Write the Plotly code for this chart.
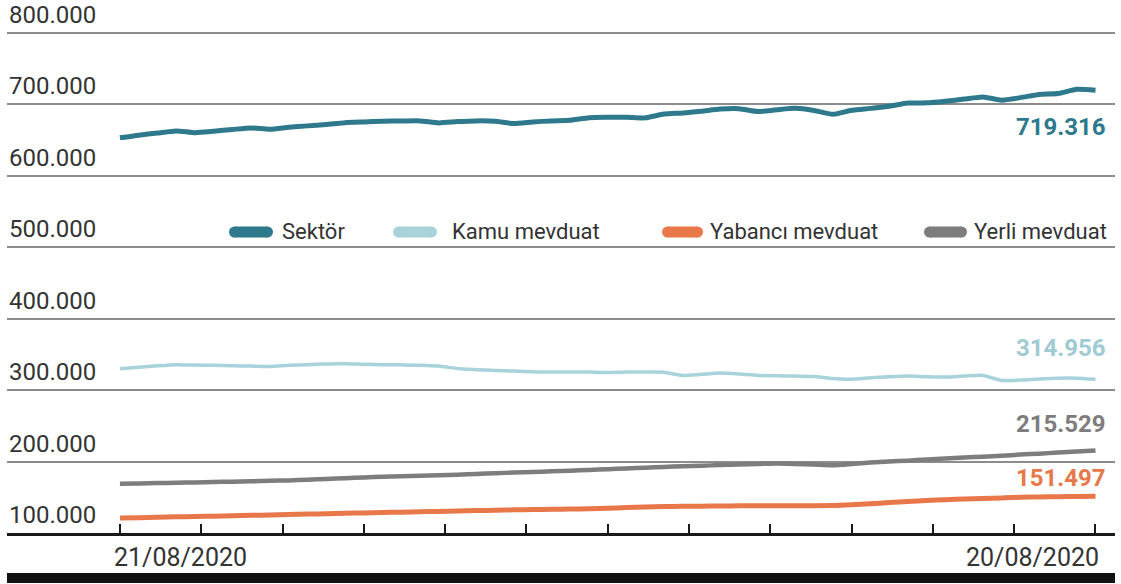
import plotly.graph_objects as go

# ---- data (weekly readings, thousands) ----
weeks = list(range(53))
sektor = [652.8, 656.5, 659.5, 662.5, 660.0, 662.0, 664.5, 666.7, 664.8, 667.5,
          669.5, 671.5, 674.0, 675.0, 676.0, 676.3, 676.5, 673.7, 675.5, 676.5,
          676.0, 672.7, 675.0, 676.5, 677.4, 681.0, 681.5, 681.5, 680.7, 686.0,
          687.5, 690.0, 693.0, 693.5, 689.5, 692.0, 694.0, 691.0, 685.7, 691.3,
          694.0, 697.0, 701.5, 701.7, 704.0, 707.0, 710.0, 705.5, 709.0, 713.5,
          714.7, 720.7, 719.316]
kamu = [329.8, 332.0, 334.0, 335.5, 335.0, 334.5, 334.0, 333.5, 333.0, 334.5,
        335.5, 336.5, 336.8, 336.0, 335.5, 335.2, 334.8, 333.5, 330.0, 328.5,
        327.4, 326.5, 325.5, 325.2, 325.2, 325.2, 324.5, 325.2, 325.2, 325.0,
        320.4, 322.0, 323.8, 322.5, 320.4, 320.0, 319.5, 319.0, 316.0, 315.0,
        317.0, 318.5, 319.5, 318.5, 318.2, 319.5, 320.4, 313.4, 314.0, 315.5,
        316.5, 316.5, 314.956]
yabanci = [121.0, 121.5, 122.0, 122.6, 123.1, 123.6, 124.2, 124.7, 125.3, 125.9,
           126.5, 127.0, 127.6, 128.1, 128.6, 129.2, 129.7, 130.2, 130.8, 131.3,
           131.9, 132.4, 132.8, 133.1, 133.4, 133.8, 134.6, 135.5, 136.4, 137.0,
           137.3, 137.5, 137.8, 138.0, 138.2, 138.2, 138.2, 138.2, 138.4, 139.5,
           141.0, 142.5, 144.0, 145.5, 146.6, 147.5, 148.3, 149.0, 150.0, 150.5,
           150.8, 151.2, 151.497]
yerli = [168.8, 169.3, 169.8, 170.3, 170.8, 171.3, 171.8, 172.4, 173.0, 173.6,
         174.6, 175.6, 176.7, 177.8, 178.6, 179.3, 180.0, 180.7, 181.6, 182.6,
         183.6, 184.6, 185.4, 186.3, 187.2, 188.2, 189.3, 190.3, 191.3, 192.4,
         193.4, 194.2, 195.0, 195.8, 196.6, 197.2, 196.6, 195.8, 194.8, 196.5,
         198.6, 200.0, 201.2, 202.8, 204.2, 205.5, 206.8, 208.0, 209.8, 211.0,
         212.5, 214.0, 215.529]

series_names = ["Sektör", "Kamu mevduat", "Yabancı mevduat", "Yerli mevduat"]
series_vals = [sektor, kamu, yabanci, yerli]
series_colors = ["#2e7a8c", "#a8d3da", "#e8774a", "#7d7d7d"]
series_widths = [5, 3.5, 5, 4.5]
end_labels = ["719.316", "314.956", "151.497", "215.529"]

y_ticks = [100, 200, 300, 400, 500, 600, 700, 800]
y_ticktext = ["100.000", "200.000", "300.000", "400.000", "500.000",
              "600.000", "700.000", "800.000"]
x_tickvals = [52 * k / 12 for k in range(13)]
x_first_label = "21/08/2020"
x_last_label = "20/08/2020"

FONT = "Roboto"

fig = go.Figure()
for name, vals, col, w in zip(series_names, series_vals, series_colors, series_widths):
    fig.add_trace(go.Scatter(x=weeks, y=vals, mode="lines", name=name,
                             line=dict(color=col, width=w, shape="spline", smoothing=0.6),
                             showlegend=False, hoverinfo="skip"))

# geometry helpers (pixel -> paper)
W, H = 1121, 584
L, R, T, B = 7, 6, 4, 51
pw, ph = W - L - R, H - T - B


def px(x):
    return (x - L) / pw


def py(y):
    return (H - B - y) / ph


annotations = []
shapes = []

# y tick labels (above their gridlines)
for v, t in zip(y_ticks, y_ticktext):
    annotations.append(dict(x=px(7), y=v, xref="paper", yref="y", text=t,
                            showarrow=False, xanchor="left", yanchor="bottom", yshift=2,
                            font=dict(family=FONT, size=24, color="#333333")))

# end-value labels
label_y_px = [127, 348, 478, 424]
for txt, col, ypx in zip(end_labels, series_colors, label_y_px):
    c = col if col != "#a8d3da" else "#9fcbd3"
    annotations.append(dict(x=px(1108), y=py(ypx), xref="paper", yref="paper",
                            text=txt, showarrow=False, xanchor="right", yanchor="middle",
                            font=dict(family=FONT, size=24, color=c, weight="bold")))

# x labels
annotations.append(dict(x=0, y=py(557), xref="x", yref="paper", text=x_first_label,
                        showarrow=False, xanchor="left", yanchor="middle", xshift=-8,
                        font=dict(family=FONT, size=25, color="#333333")))
annotations.append(dict(x=52, y=py(557), xref="x", yref="paper", text=x_last_label,
                        showarrow=False, xanchor="right", yanchor="middle", xshift=6,
                        font=dict(family=FONT, size=25, color="#333333")))

# legend (drawn manually)
leg = [(229, 273, 282), (393, 437, 452), (662, 703, 710), (924, 967, 974)]
leg_y = 232
r = 5.5
for (m0, m1, tx), name, col in zip(leg, series_names, series_colors):
    shapes.append(dict(type="line", xref="paper", yref="paper",
                       x0=px(m0 + r), x1=px(m1 - r), y0=py(leg_y), y1=py(leg_y),
                       line=dict(color=col, width=2 * r)))
    for cx in (m0 + r, m1 - r):
        shapes.append(dict(type="circle", xref="paper", yref="paper",
                           xsizemode="pixel", ysizemode="pixel",
                           xanchor=px(cx), yanchor=py(leg_y),
                           x0=-r, x1=r, y0=-r, y1=r,
                           fillcolor=col, line=dict(width=0)))
    annotations.append(dict(x=px(tx), y=py(leg_y - 1), xref="paper", yref="paper",
                            text=name, showarrow=False, xanchor="left", yanchor="middle",
                            xshift=-2,
                            font=dict(family=FONT, size=22, color="#333333")))

# bottom black bar
shapes.append(dict(type="rect", xref="paper", yref="paper", x0=px(7), x1=px(1115),
                   y0=py(583), y1=py(573), fillcolor="#111111", line=dict(width=0)))

fig.update_layout(
    width=W, height=H,
    margin=dict(l=L, r=R, t=T, b=B),
    paper_bgcolor="white", plot_bgcolor="white",
    showlegend=False,
    annotations=annotations, shapes=shapes,
    xaxis=dict(range=[-6.02, 53.04], showgrid=False, zeroline=False,
               showline=True, linecolor="#1a1a1a", linewidth=2.5,
               tickvals=x_tickvals, ticks="inside", ticklen=9, tickwidth=2,
               tickcolor="#1a1a1a", showticklabels=False),
    yaxis=dict(range=[100, 840], tickvals=y_ticks,
               showgrid=True, gridcolor="#8c8c8c", gridwidth=1.5, zeroline=False,
               ticks="", showticklabels=False),
)

fig.write_html("out.html", config={"displayModeBar": False},
               post_script="document.body.style.margin='0';document.body.style.overflow='hidden';")
